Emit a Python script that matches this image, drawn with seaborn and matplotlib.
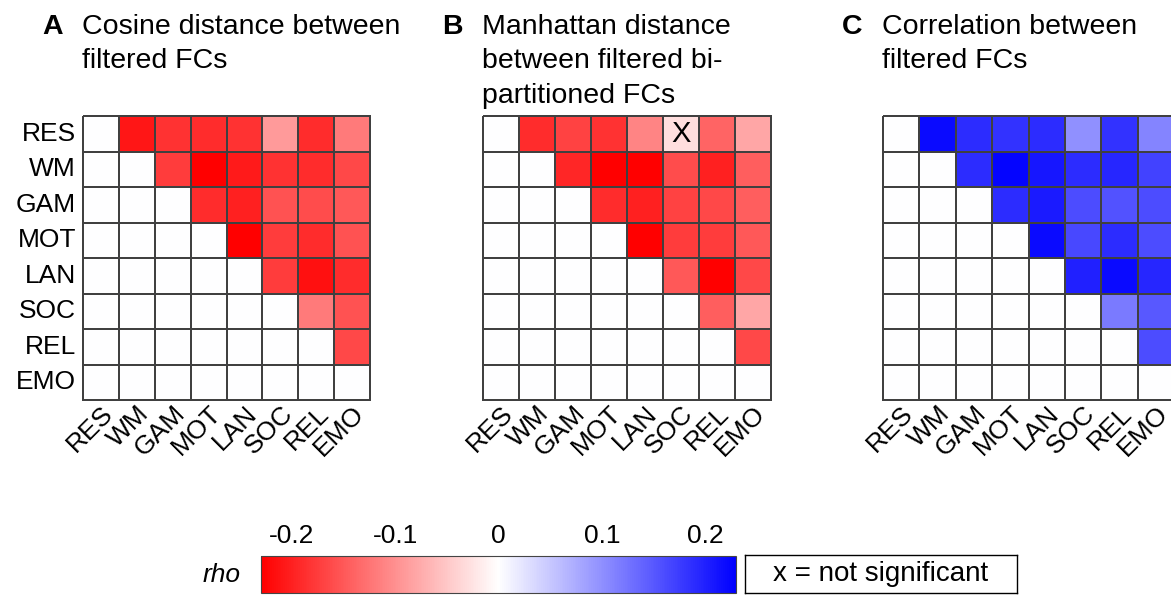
import numpy as np
import pandas as pd
import seaborn as sns
import matplotlib
matplotlib.use("Agg")
import matplotlib.pyplot as plt
from matplotlib.colors import LinearSegmentedColormap

# ---------------- data ----------------
networks = ["RES", "WM", "GAM", "MOT", "LAN", "SOC", "REL", "EMO"]

# upper-triangle rho values, row by row (row i, columns i+1 .. end)
cosine_rho = [
    [-0.21, -0.185, -0.19, -0.185, -0.09, -0.19, -0.12],
    [-0.175, -0.23, -0.205, -0.185, -0.19, -0.165],
    [-0.19, -0.20, -0.155, -0.16, -0.15],
    [-0.23, -0.175, -0.19, -0.155],
    [-0.175, -0.215, -0.19],
    [-0.12, -0.155],
    [-0.165],
]
manhattan_rho = [
    [-0.19, -0.17, -0.185, -0.11, -0.03, -0.14, -0.08],
    [-0.195, -0.23, -0.23, -0.16, -0.20, -0.145],
    [-0.19, -0.20, -0.17, -0.165, -0.145],
    [-0.23, -0.175, -0.175, -0.15],
    [-0.15, -0.23, -0.165],
    [-0.145, -0.08],
    [-0.165],
]
correlation_rho = [
    [0.22, 0.19, 0.185, 0.19, 0.10, 0.185, 0.11],
    [0.19, 0.225, 0.21, 0.19, 0.195, 0.17],
    [0.19, 0.205, 0.16, 0.155, 0.16],
    [0.22, 0.165, 0.19, 0.16],
    [0.20, 0.22, 0.195],
    [0.12, 0.15],
    [0.16],
]
manhattan_not_significant = [("RES", "SOC")]

panel_letters = ["A", "B", "C"]
panel_titles = [
    "Cosine distance between\nfiltered FCs",
    "Manhattan distance\nbetween filtered bi-\npartitioned FCs",
    "Correlation between\nfiltered FCs",
]
cbar_ticks = [-0.2, -0.1, 0, 0.1, 0.2]
cbar_ticklabels = ["-0.2", "-0.1", "0", "0.1", "0.2"]
vmin, vmax = -0.23, 0.23


def to_matrix(upper):
    n = len(networks)
    m = np.zeros((n, n))
    for i, row in enumerate(upper):
        m[i, i + 1:] = row
    return pd.DataFrame(m, index=networks, columns=networks)


# ---------------- style ----------------
sns.set_theme(style="white")
plt.rcParams["font.family"] = ["Liberation Sans", "DejaVu Sans"]
plt.rcParams["text.color"] = "black"
plt.rcParams["xtick.color"] = "black"
plt.rcParams["ytick.color"] = "black"
plt.rcParams["axes.labelcolor"] = "black"

W, H = 1171, 597
fig = plt.figure(figsize=(W / 100, H / 100), dpi=100)

cmap = LinearSegmentedColormap.from_list("rwb", [(1, 0, 0), (1, 1, 1), (0, 0, 1)])


def px_axes(left, top, width, height):
    return fig.add_axes([left / W, 1 - (top + height) / H, width / W, height / H])


panel_data = [cosine_rho, manhattan_rho, correlation_rho]
lefts = [83, 483, 883]
widths = [287, 288, 291]
axes = []
for k, (data, left, wd) in enumerate(zip(panel_data, lefts, widths)):
    ax = px_axes(left, 116, wd, 284)
    df = to_matrix(data)
    sns.heatmap(df, ax=ax, cmap=cmap, vmin=vmin, vmax=vmax, cbar=False,
                linewidths=1.1, linecolor="#404040",
                xticklabels=networks, yticklabels=networks if k == 0 else False)
    ax.collections[0].set_clip_on(False)
    ax.tick_params(length=0, labelsize=19, colors="black")
    ax.tick_params(axis="y", pad=5)
    ax.tick_params(axis="x", pad=1)
    for lab in ax.get_xticklabels():
        lab.set_rotation(45)
        lab.set_ha("right")
        lab.set_va("top")
        lab.set_rotation_mode("anchor")
    if k == 0:
        for lab in ax.get_yticklabels():
            lab.set_rotation(0)
    axes.append(ax)
    # titles
    fig.text((left - 41) / W, 1 - 14 / H, panel_letters[k], fontsize=20.5,
             fontweight="bold", ha="left", va="top")
    fig.text((left - 1) / W, 1 - 14 / H, panel_titles[k], fontsize=20.5,
             ha="left", va="top", linespacing=1.42)

# not-significant marker
axB = axes[1]
for r, c in manhattan_not_significant:
    axB.text(networks.index(c) + 0.5, networks.index(r) + 0.5, "X",
             ha="center", va="center", fontsize=21, color="black")

# colorbar
cax = px_axes(261, 556, 475, 37)
cb = fig.colorbar(axes[0].collections[0], cax=cax, orientation="horizontal",
                  ticks=cbar_ticks)
cb.ax.set_xticklabels(cbar_ticklabels)
cb.ax.xaxis.set_ticks_position("top")
cb.ax.xaxis.set_label_position("top")
cb.ax.tick_params(direction="in", length=4, width=0.8, labelsize=19, pad=6,
                  color="#555555", labelcolor="black")
cb.outline.set_edgecolor("#444444")
cb.outline.set_linewidth(0.8)
fig.text(222 / W, 1 - 575 / H, "rho", fontsize=19, style="italic",
         ha="center", va="center")

# legend box
lax = px_axes(745, 555, 272, 38)
lax.set_xticks([])
lax.set_yticks([])
for s in lax.spines.values():
    s.set_visible(True)
    s.set_edgecolor("black")
    s.set_linewidth(1.0)
lax.text(0.5, 0.5, "x = not significant", ha="center", va="center",
         fontsize=20, transform=lax.transAxes)

fig.savefig("out.png", dpi=100)
